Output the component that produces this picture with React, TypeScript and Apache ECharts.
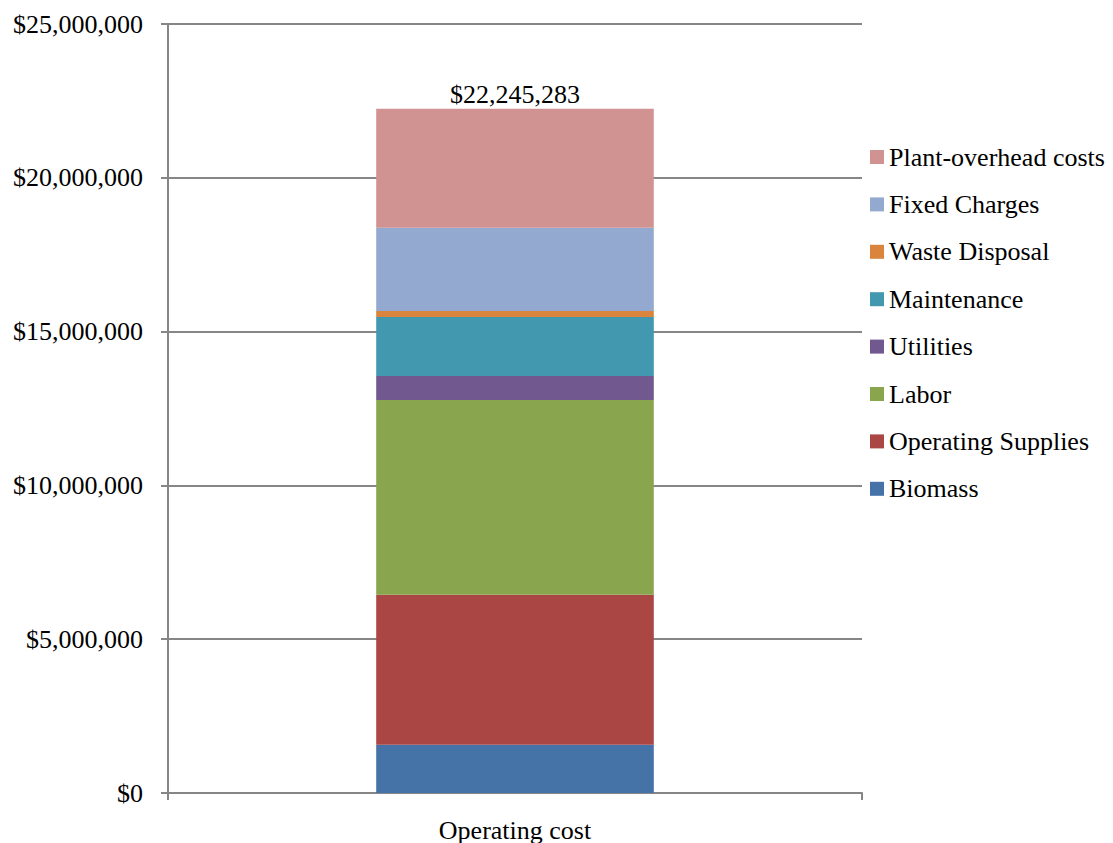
import React, { useEffect, useRef } from "react";
import * as echarts from "echarts";

const categories = ["Operating cost"];
const seriesNames = [
  "Biomass",
  "Operating Supplies",
  "Labor",
  "Utilities",
  "Maintenance",
  "Waste Disposal",
  "Fixed Charges",
  "Plant-overhead costs",
];
const seriesColors = [
  "#4572A7",
  "#AA4643",
  "#89A54E",
  "#71588F",
  "#4198AF",
  "#DB843D",
  "#93A9CF",
  "#D19392",
];
const biomass = [1566000];
const operatingSupplies = [4875000];
const labor = [6337000];
const utilities = [780000];
const maintenance = [1916000];
const wasteDisposal = [195000];
const fixedCharges = [2708000];
const plantOverhead = [3868283];
const totalLabel = ["$22,245,283"];
const yTicks = [0, 5000000, 10000000, 15000000, 20000000, 25000000];

const seriesValues = [
  biomass,
  operatingSupplies,
  labor,
  utilities,
  maintenance,
  wasteDisposal,
  fixedCharges,
  plantOverhead,
];

const FONT = "'Liberation Serif', 'Times New Roman', serif";
const FS = 26;

function fmt(v: number) {
  return "$" + Math.round(v).toLocaleString("en-US");
}

export default function App() {
  const ref = useRef<HTMLDivElement>(null);
  useEffect(() => {
    if (!ref.current) return;
    const chart = echarts.init(ref.current, null, { renderer: "svg" });
    const series = seriesNames.map((name, i) => ({
      name,
      type: "bar",
      stack: "total",
      data: seriesValues[i],
      barWidth: "40%",
      itemStyle: { color: seriesColors[i] },
      label:
        i === seriesNames.length - 1
          ? {
              show: true,
              position: "top",
              distance: 1,
              formatter: (p: any) => totalLabel[p.dataIndex],
              fontFamily: FONT,
              fontSize: FS,
              color: "#000",
            }
          : { show: false },
    }));
    chart.setOption({
      animation: false,
      textStyle: { fontFamily: FONT },
      grid: { left: 168, right: 251, top: 24, bottom: 50, containLabel: false },
      legend: {
        orient: "vertical",
        left: 865,
        top: 139,
        data: [...seriesNames].reverse(),
        icon: "rect",
        itemWidth: 14,
        itemHeight: 14,
        itemGap: 21.4,
        textStyle: { fontFamily: FONT, fontSize: FS, lineHeight: 26, color: "#000" },
        selectedMode: false,
      },
      xAxis: {
        type: "category",
        data: categories,
        axisLine: { lineStyle: { color: "#868686", width: 2 } },
        axisTick: { show: true, length: 7, lineStyle: { color: "#868686", width: 2 } },
        axisLabel: { fontFamily: FONT, fontSize: FS, color: "#000", margin: 24 },
      },
      yAxis: {
        type: "value",
        min: yTicks[0],
        max: yTicks[yTicks.length - 1],
        interval: 5000000,
        axisLine: { show: true, lineStyle: { color: "#868686", width: 2 } },
        axisTick: { show: true, length: 7, lineStyle: { color: "#868686", width: 2 } },
        splitLine: { show: true, lineStyle: { color: "#868686", width: 2 } },
        axisLabel: {
          fontFamily: FONT,
          fontSize: FS,
          color: "#000",
          margin: 25,
          formatter: (v: number) => fmt(v),
        },
      },
      series,
    });
    return () => chart.dispose();
  }, []);
  return <div ref={ref} style={{ width: 1113, height: 843, position: "absolute", left: 0, top: 0 }} />;
}
